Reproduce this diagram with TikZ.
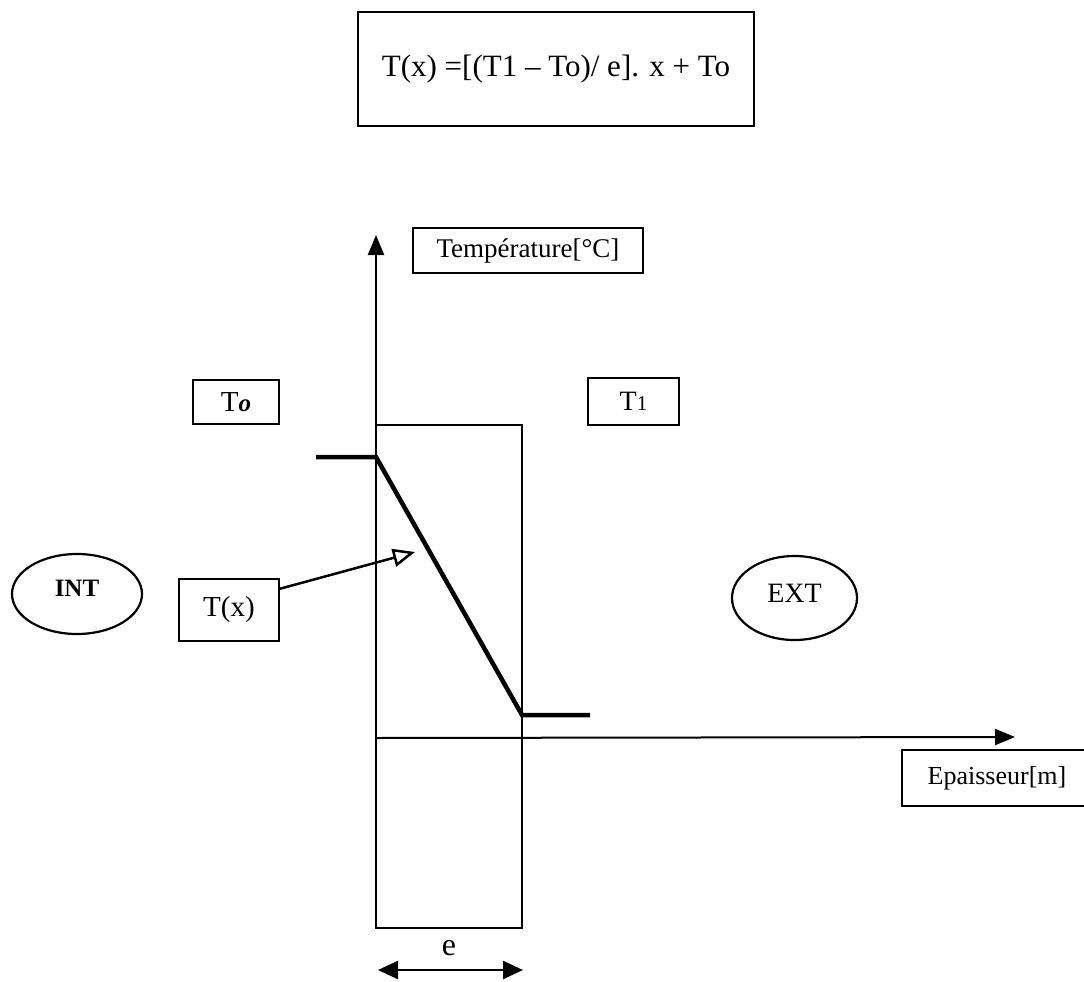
\documentclass[tikz,border=0pt]{standalone}
\usepackage{fontspec}
\setmainfont{Liberation Serif}
\usetikzlibrary{arrows.meta,shapes.geometric}
\newcommand{\fsz}[1]{\fontsize{#1}{#1}\selectfont}
\begin{document}
\begin{tikzpicture}[x=1pt,y=-1pt,
  box/.style={draw,line width=2.2pt,inner sep=0pt,rectangle},
  oval/.style={draw,line width=2.2pt,inner sep=0pt,ellipse},
  axis/.style={line width=2pt},
  profile/.style={line width=4.5pt},
  tipf/.style={-{Triangle[length=20pt,width=16pt]}},
]
\useasboundingbox (0,0) rectangle (1084,982);
\fill[white] (0,0) rectangle (1084,982);

% formula
\node[box,minimum width=396pt,minimum height=114pt] (formula) at (556,69)
  {\fsz{31}T(x) =[(T1 -- To)/ e]. x + To};

% wall
\node[draw,line width=2pt,rectangle,outer sep=0pt,minimum width=146pt,minimum height=503pt,inner sep=0pt] (wall) at (449,676.5) {};

% axes
\coordinate (ytip) at (376,235);
\coordinate (xorig) at (376,738);
\coordinate (xtip) at (1015,737);
\draw[axis,tipf] (wall.south west) -- (ytip);
\draw[axis,tipf] (xorig) -- (xtip);

% labels
\node[box,minimum width=230pt,minimum height=45pt] (temp) at (528,250.5) {\fsz{27}Température[°C]};
\node[box,minimum width=86pt,minimum height=44pt] (To) at (236,402) {\fsz{29}T{\fsz{25}\itshape\bfseries o}};
\node[box,minimum width=91pt,minimum height=47pt] (T1) at (633.5,401.5) {\fsz{28}T{\fsz{21}1}};
\node[box,minimum width=100pt,minimum height=62pt] (Tx) at (229,610) {\fsz{29}T(x)};
\node[oval,minimum width=130pt,minimum height=80pt] (INT) at (77,594) {\raisebox{12pt}{\fsz{25}\bfseries INT}};
\node[oval,minimum width=125pt,minimum height=84pt] (EXT) at (794.5,598) {\raisebox{10pt}{\fsz{28}EXT}};
\node[box,minimum width=190pt,minimum height=56pt] (epa) at (997,778) {\fsz{26}Epaisseur[m]};

% temperature profile
\coordinate (A) at (316,457);
\coordinate (B) at (376,457);
\coordinate (C) at (522,715);
\coordinate (D) at (590,715);
\draw[profile,line join=miter] (A) -- (B) -- (C) -- (D);

% T(x) pointer
\coordinate (Txs) at (279,589);
\coordinate (Txe) at (415,552);
\draw[line width=2.5pt,-{Triangle[open,length=22pt,width=18pt,line width=2.5pt]}] (Txs) -- (Txe);

% thickness e
\coordinate (eL) at (378,970);
\coordinate (eR) at (523,970);
\draw[line width=2.5pt,{Triangle[length=20pt,width=18pt]}-{Triangle[length=20pt,width=18pt]}] (eL) -- (eR);
\node (elab) at (449,948) {\fsz{32}e};
\end{tikzpicture}
\end{document}
